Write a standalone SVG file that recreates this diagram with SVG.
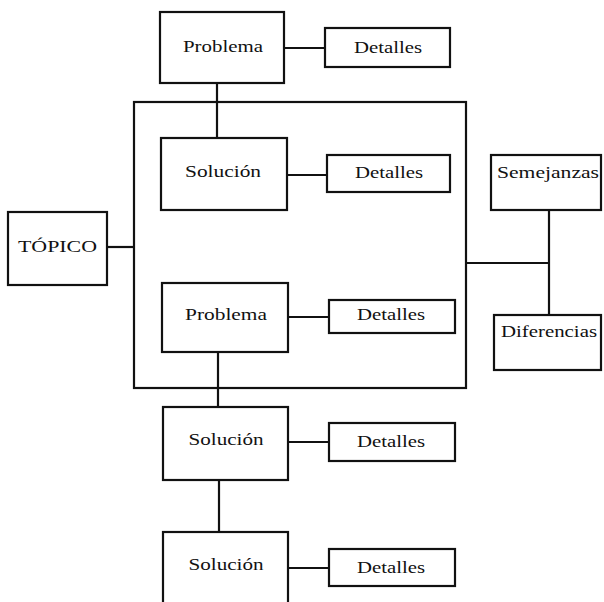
<svg xmlns="http://www.w3.org/2000/svg" width="604" height="602" viewBox="0 0 604 602">
<style>
rect.b{fill:#fff;stroke:#111;stroke-width:2.2}
#connectors line,#connectors path{stroke:#111;stroke-width:2.2;fill:none}
text{font-family:"Liberation Serif","Times New Roman",serif;font-size:16px;fill:#111;text-anchor:middle}
</style>
<rect width="604" height="602" fill="#fff"/>
<g id="connectors">
<rect x="134" y="102" width="332" height="286" fill="none" stroke="#111" stroke-width="2.2"/>
<line x1="217" y1="83" x2="217" y2="138"/>
<line x1="284" y1="48" x2="325" y2="48"/>
<line x1="287" y1="175" x2="327" y2="175"/>
<line x1="107" y1="247" x2="134" y2="247"/>
<line x1="288" y1="317" x2="329" y2="317"/>
<line x1="218" y1="352" x2="218" y2="407"/>
<line x1="288" y1="442" x2="329" y2="442"/>
<line x1="219" y1="480" x2="219" y2="532"/>
<line x1="288" y1="568" x2="329" y2="568"/>
<line x1="549" y1="210" x2="549" y2="315"/>
<line x1="466" y1="263" x2="549" y2="263"/>
</g>
<g id="problema1"><rect class="b" x="160" y="12" width="124" height="71"/><text x="223" y="52" textLength="80" lengthAdjust="spacingAndGlyphs">Problema</text></g>
<g id="detalles1"><rect class="b" x="325" y="28" width="125" height="39"/><text x="388" y="53" textLength="68" lengthAdjust="spacingAndGlyphs">Detalles</text></g>
<g id="solucion1"><rect class="b" x="161" y="138" width="126" height="72"/><text x="223" y="177" textLength="76" lengthAdjust="spacingAndGlyphs">Solución</text></g>
<g id="detalles2"><rect class="b" x="327" y="155" width="123" height="37"/><text x="389" y="178" textLength="68" lengthAdjust="spacingAndGlyphs">Detalles</text></g>
<g id="topico"><rect class="b" x="8" y="212" width="99" height="73"/><text x="57.5" y="252" textLength="79" lengthAdjust="spacingAndGlyphs">TÓPICO</text></g>
<g id="semejanzas"><rect class="b" x="491" y="155" width="110" height="55"/><text x="548" y="178" textLength="102" lengthAdjust="spacingAndGlyphs">Semejanzas</text></g>
<g id="problema2"><rect class="b" x="162" y="283" width="126" height="69"/><text x="226" y="320" textLength="82" lengthAdjust="spacingAndGlyphs">Problema</text></g>
<g id="detalles3"><rect class="b" x="329" y="300" width="126" height="33"/><text x="391" y="320" textLength="68" lengthAdjust="spacingAndGlyphs">Detalles</text></g>
<g id="diferencias"><rect class="b" x="494" y="315" width="107" height="55"/><text x="549" y="337" textLength="96" lengthAdjust="spacingAndGlyphs">Diferencias</text></g>
<g id="solucion2"><rect class="b" x="163" y="407" width="125" height="73"/><text x="226" y="445" textLength="75" lengthAdjust="spacingAndGlyphs">Solución</text></g>
<g id="detalles4"><rect class="b" x="329" y="423" width="126" height="38"/><text x="391" y="447" textLength="68" lengthAdjust="spacingAndGlyphs">Detalles</text></g>
<g id="solucion3"><rect class="b" x="163" y="532" width="125" height="80"/><text x="226" y="570" textLength="75" lengthAdjust="spacingAndGlyphs">Solución</text></g>
<g id="detalles5"><rect class="b" x="329" y="549" width="126" height="37"/><text x="391" y="573" textLength="68" lengthAdjust="spacingAndGlyphs">Detalles</text></g>
</svg>
